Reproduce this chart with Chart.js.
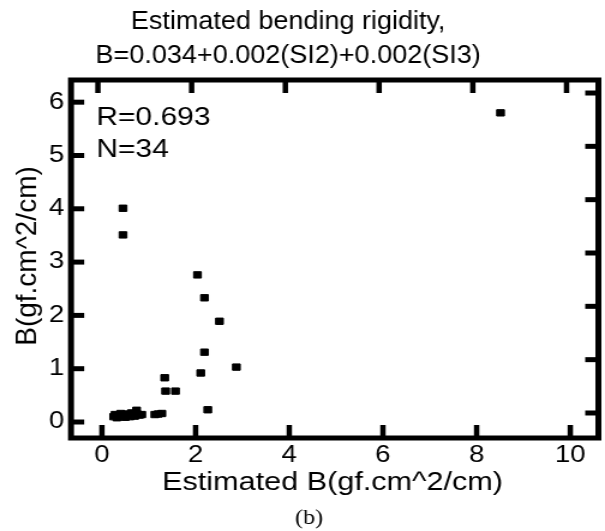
<!DOCTYPE html>
<html>
<head>
<meta charset="utf-8">
<script src="https://cdn.jsdelivr.net/npm/chart.js@4.4.0/dist/chart.umd.min.js"></script>
<style>
  html, body { margin: 0; padding: 0; background: #fff; }
  #c { display: block; width: 605px !important; height: 531px !important; }
</style>
</head>
<body>
<canvas id="c" width="504" height="531"></canvas>
<script>
// ---- data ----
const xVals = [8.51, 0.45, 0.45, 2.04, 2.19, 2.51, 2.19, 2.87, 2.11, 1.34, 1.36, 1.57, 2.26,
               0.25, 0.28, 0.32, 0.36, 0.40, 0.44, 0.47, 0.50, 0.53, 0.56, 0.60, 0.63, 0.66,
               0.70, 0.74, 0.75, 0.80, 0.85, 1.13, 1.20, 1.28];
const yVals = [5.80, 4.01, 3.51, 2.76, 2.33, 1.89, 1.31, 1.03, 0.92, 0.83, 0.58, 0.58, 0.23,
               0.10, 0.14, 0.08, 0.12, 0.16, 0.10, 0.13, 0.09, 0.15, 0.12, 0.10, 0.17, 0.13,
               0.11, 0.22, 0.15, 0.13, 0.14, 0.14, 0.15, 0.16];
const xTicks = [0, 2, 4, 6, 8, 10];
const yTicks = [0, 1, 2, 3, 4, 5, 6];
const titleLines = ['Estimated bending rigidity,', 'B=0.034+0.002(SI2)+0.002(SI3)'];
const statLines = ['R=0.693', 'N=34'];
const xTitle = 'Estimated B(gf.cm^2/cm)';
const yTitle = 'B(gf.cm^2/cm)';
const caption = '(b)';

const SX = 605 / 504; // horizontal stretch of the picture
const SANS = '"Liberation Sans", Arial, Helvetica, sans-serif';

const points = xVals.map((x, i) => ({ x, y: yVals[i] }));

const framePlugin = {
  id: 'frame',
  afterDraw(chart) {
    const { ctx, chartArea: a, scales } = chart;
    ctx.save();
    ctx.strokeStyle = '#000';
    ctx.fillStyle = '#000';
    // frame
    ctx.lineWidth = 5;
    ctx.lineJoin = 'miter';
    ctx.strokeRect(a.left, a.top, a.right - a.left, a.bottom - a.top);
    // inward ticks
    const line = (x1, y1, x2, y2) => { ctx.beginPath(); ctx.moveTo(x1, y1); ctx.lineTo(x2, y2); ctx.stroke(); };
    ctx.lineWidth = 4.5;
    xTicks.forEach(v => {
      const xb = scales.x.getPixelForValue(v);
      line(xb, a.bottom, xb, a.bottom - 13);
      const xt = scales.x2.getPixelForValue(v);
      line(xt, a.top, xt, a.top + 13);
    });
    ctx.lineWidth = 5;
    yTicks.forEach(v => {
      const yl = scales.y.getPixelForValue(v);
      line(a.left, yl, a.left + 11, yl);
      const yr = scales.y2.getPixelForValue(v);
      line(a.right, yr, a.right - 11, yr);
    });

    // title (two lines)
    ctx.textAlign = 'center';
    ctx.textBaseline = 'alphabetic';
    ctx.font = '25px ' + SANS;
    [[titleLines[0], 29], [titleLines[1], 63]].forEach(([t, by]) => {
      ctx.save();
      ctx.translate(240, by);
      ctx.scale(0.9, 1);
      ctx.fillText(t, 0, 0);
      ctx.restore();
    });

    // statistics text
    ctx.textAlign = 'left';
    ctx.font = '25px ' + SANS;
    ctx.fillText(statLines[0], a.left + 21, 125);
    ctx.fillText(statLines[1], a.left + 21, 157);

    // x axis title
    ctx.textAlign = 'center';
    ctx.font = '25.5px ' + SANS;
    ctx.fillText(xTitle, 277, 490);

    // y axis title
    ctx.save();
    ctx.translate(28.5 / SX, 256);
    ctx.scale(1 / SX, 1);
    ctx.rotate(-Math.PI / 2);
    ctx.font = '28px ' + SANS;
    ctx.textAlign = 'center';
    ctx.fillText(yTitle, 0, 7.3);
    ctx.restore();

    // caption
    ctx.font = '20px "Liberation Serif", "Times New Roman", serif';
    ctx.textAlign = 'center';
    ctx.fillText(caption, 257.5, 524);

    ctx.restore();
  }
};

const tickFont = { family: SANS, size: 23 };

new Chart(document.getElementById('c'), {
  type: 'scatter',
  data: {
    datasets: [{
      data: points,
      pointStyle: 'rect',
      pointRadius: 4.5,
      pointHoverRadius: 4.5,
      borderWidth: 1,
      backgroundColor: '#000',
      borderColor: '#000'
    }]
  },
  options: {
    responsive: false,
    animation: false,
    devicePixelRatio: 1,
    layout: { padding: { top: 80, right: 4.2, left: 0, bottom: 0 } },
    plugins: { legend: { display: false }, title: { display: false }, tooltip: { enabled: false } },
    scales: {
      x: {
        type: 'linear', position: 'bottom', min: -0.66, max: 10.6,
        afterBuildTicks: s => { s.ticks = xTicks.map(v => ({ value: v })); },
        afterFit: s => { s.height = 93; },
        grid: { display: false, drawTicks: false }, border: { display: false },
        ticks: { font: tickFont, color: '#000', padding: 4, maxRotation: 0, autoSkip: false }
      },
      x2: {
        type: 'linear', position: 'top', display: false, min: -0.574, max: 10.68
      },
      y: {
        type: 'linear', position: 'left', min: -0.30, max: 6.416,
        afterBuildTicks: s => { s.ticks = yTicks.map(v => ({ value: v })); },
        afterFit: s => { s.width = 59.15; },
        grid: { display: false, drawTicks: false }, border: { display: false },
        ticks: { font: tickFont, color: '#000', padding: 5.5, autoSkip: false }
      },
      y2: {
        type: 'linear', position: 'right', display: false, min: -0.469, max: 6.244
      }
    }
  },
  plugins: [framePlugin]
});
</script>
</body>
</html>
